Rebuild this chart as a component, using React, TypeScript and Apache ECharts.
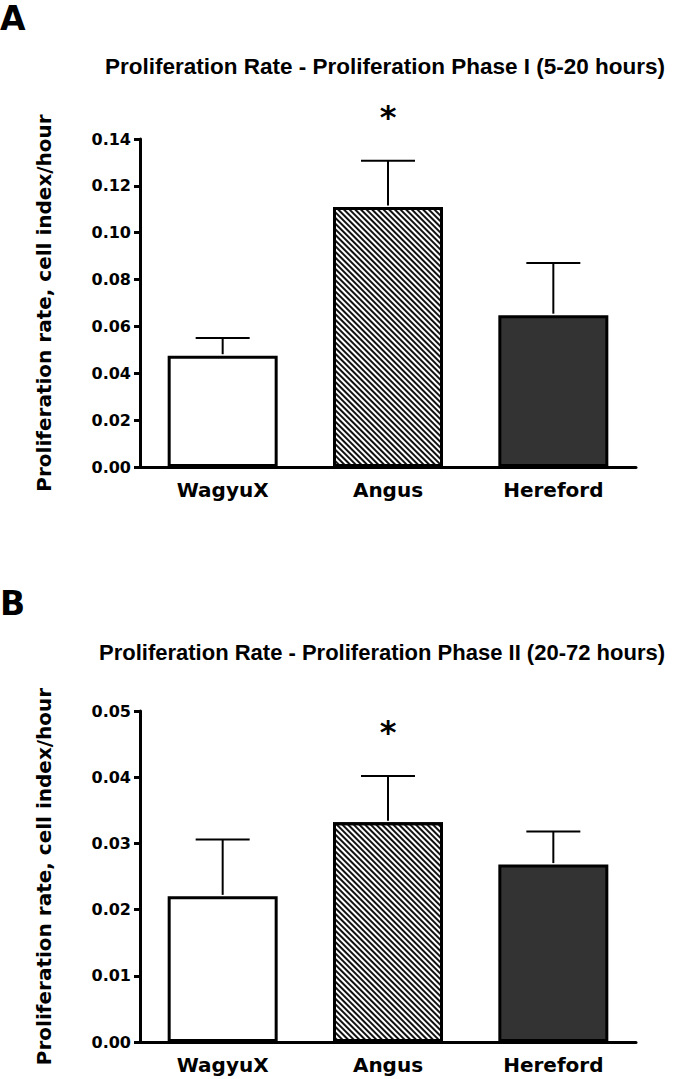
import React, { useEffect, useRef } from "react";
import * as echarts from "echarts";

const categories = ["WagyuX", "Angus", "Hereford"];
const phase1Means = [0.0475, 0.111, 0.0648];
const phase1Sem = [0.0076, 0.0197, 0.0223];
const phase2Means = [0.022, 0.0332, 0.0268];
const phase2Sem = [0.0086, 0.007, 0.005];
const significance = ["", "*", ""];
const phase1Axis = { min: 0, max: 0.14, interval: 0.02 };
const phase2Axis = { min: 0, max: 0.05, interval: 0.01 };
const titles = [
  "Proliferation Rate - Proliferation Phase I (5-20 hours)",
  "Proliferation Rate - Proliferation Phase II (20-72 hours)",
];
const panelLabels = ["A", "B"];
const yName = "Proliferation rate, cell index/hour";

const FONT = "'DejaVu Sans', Verdana, sans-serif";
const TITLE_FONT = "'Liberation Sans', Arial, sans-serif";

const barFills = [
  { color: "#ffffff" },
  {
    color: "#ffffff",
    decal: {
      symbol: "rect",
      symbolSize: 1,
      dashArrayX: [1, 0],
      dashArrayY: [1.3, 1.5],
      rotation: Math.PI / 4,
      color: "#111111",
    },
  },
  { color: "#333333" },
];

function barData(means: number[]) {
  return means.map((v, i) => ({
    value: v,
    itemStyle: { ...barFills[i], borderColor: "#000", borderWidth: 3 },
  }));
}

function errData(means: number[], sem: number[]) {
  return means.map((v, i) => [i, v, sem[i], i]);
}

function errRender(params: any, api: any) {
  const i = api.value(0);
  const v = api.value(1);
  const e = api.value(2);
  const base = api.coord([i, v]);
  const top = api.coord([i, v + e]);
  const sig = significance[params.dataIndex];
  const children: any[] = [
    {
      type: "line",
      shape: { x1: base[0], y1: base[1] - 1.5, x2: top[0], y2: top[1] },
      style: { stroke: "#000", lineWidth: 2 },
    },
    {
      type: "line",
      shape: { x1: top[0] - 27, y1: top[1], x2: top[0] + 27, y2: top[1] },
      style: { stroke: "#000", lineWidth: 2 },
    },
  ];
  if (sig) {
    children.push({
      type: "text",
      x: top[0],
      y: top[1] - 44,
      style: {
        text: sig,
        fontSize: 32,
        fontWeight: "bold",
        fontFamily: FONT,
        fill: "#000",
        align: "center",
        verticalAlign: "middle",
      },
    });
  }
  return { type: "group", children };
}

function xAxisCfg(gridIndex: number) {
  return {
    type: "category",
    gridIndex,
    data: categories,
    axisLine: { lineStyle: { color: "#000", width: 3 } },
    axisTick: { alignWithLabel: true, length: 6, lineStyle: { color: "#000", width: 3 } },
    axisLabel: {
      color: "#000",
      fontFamily: FONT,
      fontWeight: "bold",
      fontSize: 20,
      margin: 13,
    },
  };
}

function yAxisCfg(gridIndex: number, ax: { min: number; max: number; interval: number }) {
  return {
    type: "value",
    gridIndex,
    min: ax.min,
    max: ax.max,
    interval: ax.interval,
    name: yName,
    nameLocation: "middle",
    nameRotate: 90,
    nameGap: 86,
    nameTextStyle: {
      color: "#000",
      fontFamily: FONT,
      fontWeight: "bold",
      fontSize: 20,
    },
    axisLine: { show: true, lineStyle: { color: "#000", width: 3 } },
    axisTick: { show: true, length: 6, lineStyle: { color: "#000", width: 3 } },
    splitLine: { show: false },
    axisLabel: {
      color: "#000",
      fontFamily: FONT,
      fontWeight: "bold",
      fontSize: 16,
      margin: 9,
      formatter: (v: number) => v.toFixed(2),
    },
  };
}

export default function App() {
  const ref = useRef<HTMLDivElement>(null);
  useEffect(() => {
    if (!ref.current) return;
    const chart = echarts.init(ref.current, null, { renderer: "svg" });
    const titleStyle = (fs: number) => ({ fontFamily: TITLE_FONT, fontWeight: "bold", fontSize: fs, color: "#000" });
    chart.setOption({
      animation: false,
      backgroundColor: "#ffffff",
      title: [
        { text: titles[0], left: 100, top: 50, textStyle: titleStyle(22.5) },
        { text: titles[1], left: 94, top: 636, textStyle: titleStyle(22) },
      ],
      graphic: [
        {
          type: "text",
          left: 0,
          top: 2,
          style: { text: panelLabels[0], fontFamily: FONT, fontWeight: "bold", fontSize: 33, fill: "#000" },
        },
        {
          type: "text",
          left: 0,
          top: 587,
          style: { text: panelLabels[1], fontFamily: FONT, fontWeight: "bold", fontSize: 33, fill: "#000" },
        },
      ],
      grid: [
        { left: 140, right: 46, top: 139, height: 328 },
        { left: 140, right: 46, top: 711, height: 331 },
      ],
      xAxis: [xAxisCfg(0), xAxisCfg(1)],
      yAxis: [yAxisCfg(0, phase1Axis), yAxisCfg(1, phase2Axis)],
      series: [
        {
          type: "bar",
          xAxisIndex: 0,
          yAxisIndex: 0,
          barWidth: 110,
          data: barData(phase1Means),
          z: 2,
        },
        {
          type: "custom",
          xAxisIndex: 0,
          yAxisIndex: 0,
          renderItem: errRender,
          data: errData(phase1Means, phase1Sem),
          encode: { x: 0, y: [1] },
          z: 3,
        },
        {
          type: "bar",
          xAxisIndex: 1,
          yAxisIndex: 1,
          barWidth: 110,
          data: barData(phase2Means),
          z: 2,
        },
        {
          type: "custom",
          xAxisIndex: 1,
          yAxisIndex: 1,
          renderItem: errRender,
          data: errData(phase2Means, phase2Sem),
          encode: { x: 0, y: [1] },
          z: 3,
        },
      ],
    });
    return () => chart.dispose();
  }, []);
  return (
    <div
      ref={ref}
      style={{ position: "absolute", left: 0, top: 0, width: 682, height: 1079 }}
    />
  );
}
